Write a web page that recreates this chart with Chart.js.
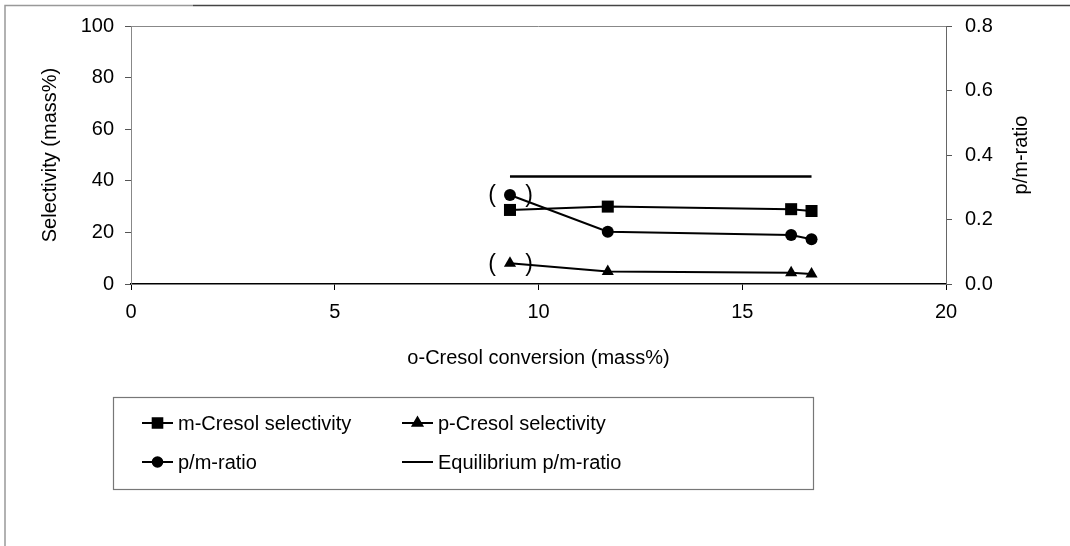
<!DOCTYPE html>
<html>
<head>
<meta charset="utf-8">
<script src="https://cdn.jsdelivr.net/npm/chart.js@4"></script>
<style>
html,body{margin:0;padding:0;background:#fff;}
#wrap{width:1070px;height:546px;position:relative;}
</style>
</head>
<body>
<div id="wrap"><canvas id="c" width="1070" height="546"></canvas></div>
<script>
const conversion = [9.3, 11.7, 16.2, 16.7];
const mCresolSel = [28.7, 30.0, 29.0, 28.3];
const pCresolSel = [8.0, 4.8, 4.4, 3.9];
const pmRatio = [0.276, 0.162, 0.152, 0.139];
const equilibriumX = [9.3, 16.7];
const equilibriumRatio = [0.333, 0.333];
const xTicks = [0, 5, 10, 15, 20];
const yTicks = [0, 20, 40, 60, 80, 100];
const y1Ticks = [0.0, 0.2, 0.4, 0.6, 0.8];
const seriesLabels = ['m-Cresol selectivity', 'p-Cresol selectivity', 'p/m-ratio', 'Equilibrium p/m-ratio'];
const y1Title = 'p/m-ratio';

const FONT = '"Liberation Sans", Arial, sans-serif';
const FS = 20;

const frame = {
  id: 'frame',
  beforeDraw(chart) {
    const c = chart.ctx;
    c.save();
    c.fillStyle = '#fff';
    c.fillRect(0, 0, chart.width, chart.height);
    c.lineWidth = 1.5;
    c.strokeStyle = '#999';
    c.beginPath(); c.moveTo(5, 546); c.lineTo(5, 5.5); c.lineTo(193, 5.5); c.stroke();
    c.strokeStyle = '#444';
    c.beginPath(); c.moveTo(193, 5.5); c.lineTo(1070, 5.5); c.stroke();
    const a = chart.chartArea;
    c.strokeStyle = '#888'; c.lineWidth = 1;
    c.beginPath(); c.moveTo(a.left, a.top + 0.5); c.lineTo(a.right, a.top + 0.5); c.stroke();
    c.restore();
  },
  afterDatasetsDraw(chart) {
    const c = chart.ctx;
    const a = chart.chartArea;
    c.save();
    c.fillStyle = '#000';
    // right axis title, reading bottom-to-top
    c.save();
    c.translate(1021, (a.top + a.bottom) / 2);
    c.rotate(-Math.PI / 2);
    c.font = FS + 'px ' + FONT;
    c.textAlign = 'center'; c.textBaseline = 'middle';
    c.fillText(y1Title, 0, 0);
    c.restore();
    // parentheses around first points
    c.font = '23px ' + FONT;
    c.textBaseline = 'middle';
    c.textAlign = 'center';
    [1, 2].forEach(di => {
      const p = chart.getDatasetMeta(di).data[0];
      c.fillText('(', p.x - 18, p.y + 1);
      c.fillText(')', p.x + 19, p.y + 1);
    });
    // legend box
    const L = 113, T = 397, R = 813, B = 489;
    c.strokeStyle = '#777'; c.lineWidth = 1.2;
    c.strokeRect(L + 0.5, T + 0.5, R - L, B - T);
    const cols = [142, 402];
    const rows = [423, 462];
    c.font = FS + 'px ' + FONT;
    c.textAlign = 'left';
    chart.data.datasets.forEach((ds, i) => {
      const x0 = cols[i % 2], y = rows[Math.floor(i / 2)];
      c.strokeStyle = '#000'; c.lineWidth = 2;
      c.beginPath(); c.moveTo(x0, y); c.lineTo(x0 + 31, y); c.stroke();
      if (ds.pointRadius > 0) {
        Chart.helpers.drawPoint(c, {pointStyle: ds.pointStyle, radius: ds.pointRadius * 0.8, rotation: 0, borderWidth: 1}, x0 + 15.5, y);
        c.fillStyle = '#000';
        c.fill();
      }
      c.fillStyle = '#000';
      c.fillText(ds.label, x0 + 36, y + 1);
    });
    c.restore();
  }
};

const toXY = (xs, ys) => xs.map((x, i) => ({x: x, y: ys[i]}));

new Chart(document.getElementById('c'), {
  type: 'line',
  data: {
    datasets: [
      {label: seriesLabels[0], data: toXY(conversion, mCresolSel), yAxisID: 'y', pointStyle: 'rect', pointRadius: 8.5, borderColor: '#000', backgroundColor: '#000', borderWidth: 2, pointBorderWidth: 0},
      {label: seriesLabels[1], data: toXY(conversion, pCresolSel), yAxisID: 'y', pointStyle: 'triangle', pointRadius: 7, borderColor: '#000', backgroundColor: '#000', borderWidth: 2, pointBorderWidth: 0},
      {label: seriesLabels[2], data: toXY(conversion, pmRatio), yAxisID: 'y1', pointStyle: 'circle', pointRadius: 6, borderColor: '#000', backgroundColor: '#000', borderWidth: 2, pointBorderWidth: 0},
      {label: seriesLabels[3], data: toXY(equilibriumX, equilibriumRatio), yAxisID: 'y1', pointRadius: 0, borderColor: '#000', backgroundColor: '#000', borderWidth: 2.5}
    ]
  },
  options: {
    responsive: false,
    animation: false,
    devicePixelRatio: 1,
    layout: {padding: {left: 34, right: 0, top: 26, bottom: 172}},
    plugins: {legend: {display: false}, tooltip: {enabled: false}},
    scales: {
      x: {
        type: 'linear', min: 0, max: 20,
        afterBuildTicks: s => { s.ticks = xTicks.map(v => ({value: v})); },
        afterFit: s => { s.height = 90; },
        grid: {drawOnChartArea: false, tickLength: 6, color: '#000'},
        border: {color: '#000', width: 1.5},
        ticks: {color: '#000', font: {family: FONT, size: FS}, padding: 10, maxRotation: 0},
        title: {display: true, text: 'o-Cresol conversion (mass%)', color: '#000', font: {family: FONT, size: FS}, padding: {top: 6}}
      },
      y: {
        type: 'linear', position: 'left', min: 0, max: 100,
        afterBuildTicks: s => { s.ticks = yTicks.map(v => ({value: v})); },
        afterFit: s => { s.width = 97; },
        grid: {drawOnChartArea: false, tickLength: 6, color: '#555'},
        border: {color: '#888', width: 1},
        ticks: {color: '#000', font: {family: FONT, size: FS}, padding: 11},
        title: {display: true, text: 'Selectivity (mass%)', color: '#000', font: {family: FONT, size: FS}, padding: {bottom: 6}}
      },
      y1: {
        type: 'linear', position: 'right', min: 0, max: 0.8,
        afterBuildTicks: s => { s.ticks = y1Ticks.map(v => ({value: v})); },
        afterFit: s => { s.width = 124; },
        grid: {drawOnChartArea: false, tickLength: 6, color: '#555'},
        border: {color: '#666', width: 1},
        ticks: {color: '#000', font: {family: FONT, size: FS}, padding: 13, callback: v => v.toFixed(1)},
        title: {display: false}
      }
    }
  },
  plugins: [frame]
});
</script>
</body>
</html>
